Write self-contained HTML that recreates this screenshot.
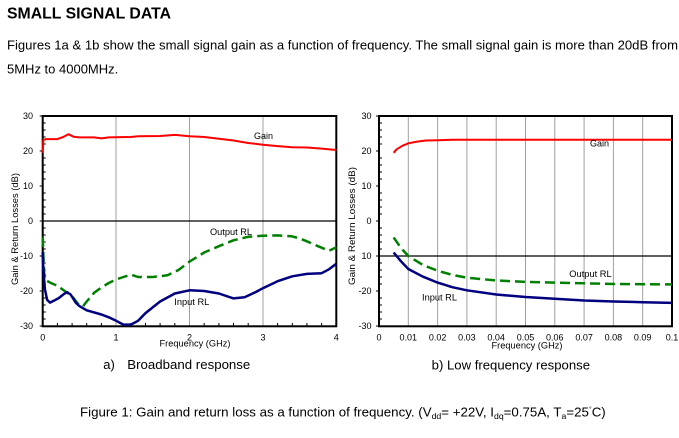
<!DOCTYPE html>
<html><head><meta charset="utf-8"><style>
html,body{margin:0;padding:0;background:#fff;}
svg{display:block;}
text{font-family:"Liberation Sans",Arial,sans-serif;fill:#000;}
</style></head><body>
<svg width="679" height="438" viewBox="0 0 679 438" xmlns="http://www.w3.org/2000/svg">
<rect x="0" y="0" width="679" height="438" fill="#fff"/>
<!-- Header -->
<text x="7" y="18.3" font-size="16" font-weight="bold" textLength="164" lengthAdjust="spacingAndGlyphs">SMALL SIGNAL DATA</text>
<text x="7" y="49.5" font-size="13" textLength="671" lengthAdjust="spacingAndGlyphs">Figures 1a &amp; 1b show the small signal gain as a function of frequency. The small signal gain is more than 20dB from</text>
<text x="7" y="73.3" font-size="13">5MHz to 4000MHz.</text>

<!-- ===== LEFT CHART ===== -->
<g stroke="#a0a0a0" stroke-width="1">
<line x1="116" y1="117" x2="116" y2="326"/>
<line x1="189.5" y1="117" x2="189.5" y2="326"/>
<line x1="263" y1="117" x2="263" y2="326"/>
</g>
<line x1="42.7" y1="221" x2="336.3" y2="221" stroke="#000" stroke-width="1.2"/>
<g stroke="#000" stroke-width="1">
<path d="M42.7,123h3M42.7,130h3M42.7,137h3M42.7,144h3M42.7,158h3M42.7,165h3M42.7,172h3M42.7,179h3M42.7,193h3M42.7,200h3M42.7,207h3M42.7,214h3M42.7,228h3M42.7,235h3M42.7,242h3M42.7,249h3M42.7,263h3M42.7,270h3M42.7,277h3M42.7,284h3M42.7,298h3M42.7,305h3M42.7,312h3M42.7,319h3"/>
<path d="M39.7,116h3M39.7,151h3M39.7,186h3M39.7,221h3M39.7,256h3M39.7,291h3M39.7,326h3"/>
<path d="M57.4,326v-3M72.1,326v-3M86.7,326v-3M101.4,326v-3M130.8,326v-3M145.5,326v-3M160.1,326v-3M174.8,326v-3M204.2,326v-3M218.9,326v-3M233.5,326v-3M248.2,326v-3M277.6,326v-3M292.3,326v-3M306.9,326v-3M321.6,326v-3"/>
</g>
<rect x="42.7" y="116" width="293.6" height="210.3" fill="none" stroke="#000" stroke-width="2"/>

<polyline fill="none" stroke="#008000" stroke-width="2.5" stroke-dasharray="10 5" stroke-linejoin="round"
points="42.7,236.8 43.4,256 44.2,273.5 46.4,280.5 50,282.6 57.4,285.8 64.7,291 72.1,296.3 79.4,305.7 83.1,306.1 86.7,301.5 94.1,292.8 101.4,287.5 108.8,283 116.1,279.5 123.4,277 130.8,274.6 138.1,277 152.8,277 167.5,275.3 178.5,270 189.5,261.6 204.2,252.5 218.9,246.2 233.5,240.3 248.2,236.8 262.9,235.7 277.6,235.4 292.3,236.4 299.6,238.5 306.9,241.3 318,246.2 329,250.8 336.3,247.3"/>
<polyline fill="none" stroke="#000080" stroke-width="2.5" stroke-linejoin="round"
points="42.7,251.8 43.4,270 44.9,289.3 47.1,299.8 50,302.6 53.7,300.8 58.9,298 63.3,294.5 66.9,292.1 70.6,294.5 75.7,302.6 79.4,306.1 86.7,310.3 101.4,314.5 108.8,317.3 116.1,320.8 123.4,324.6 130.8,324.6 138.1,320.8 145.5,313.1 160.1,301.5 174.8,293.5 189.5,290.3 204.2,291 218.9,293.5 233.5,298.4 244.6,297.3 255.6,292.1 262.9,288.2 277.6,281.2 292.3,276.3 306.9,273.9 321.6,273.2 329,269.3 336.3,263.7"/>
<polyline fill="none" stroke="#ff0000" stroke-width="2" stroke-linejoin="round"
points="42.7,152.8 43.4,139.8 46.4,139.1 57.4,139.1 63.2,137 68.4,134.2 73.5,136.7 79.4,137.4 94.1,137.4 101.4,138.4 108.8,137.4 130.8,137 138.1,136.3 160.1,136 174.8,134.9 189.5,136.3 204.2,137 218.9,138.8 233.5,140.5 248.2,143 262.9,144.7 277.6,146.1 292.3,147.2 306.9,147.5 321.6,148.6 336.3,150"/>

<g font-size="9" text-anchor="end">
<text x="33" y="119.2">30</text>
<text x="33" y="154.2">20</text>
<text x="33" y="189.2">10</text>
<text x="33" y="224.2">0</text>
<text x="33" y="259.2">-10</text>
<text x="33" y="294.2">-20</text>
<text x="33" y="329.2">-30</text>
</g>
<g font-size="9" text-anchor="middle">
<text x="42.7" y="340.5">0</text>
<text x="116" y="340.5">1</text>
<text x="189.5" y="340.5">2</text>
<text x="263" y="340.5">3</text>
<text x="336.3" y="340.5">4</text>
</g>
<text x="159.5" y="346.5" font-size="9" textLength="71" lengthAdjust="spacingAndGlyphs">Frequency (GHz)</text>
<text transform="translate(18,229) rotate(-90)" font-size="9" text-anchor="middle" textLength="112" lengthAdjust="spacingAndGlyphs">Gain &amp; Return Losses (dB)</text>
<text x="254" y="139" font-size="9">Gain</text>
<text x="210" y="235" font-size="9" textLength="42" lengthAdjust="spacingAndGlyphs">Output RL</text>
<text x="174.3" y="304.8" font-size="9" textLength="35" lengthAdjust="spacingAndGlyphs">Input RL</text>

<!-- ===== RIGHT CHART ===== -->
<g stroke="#a0a0a0" stroke-width="1">
<line x1="408.3" y1="117" x2="408.3" y2="326"/>
<line x1="437.6" y1="117" x2="437.6" y2="326"/>
<line x1="466.9" y1="117" x2="466.9" y2="326"/>
<line x1="496.2" y1="117" x2="496.2" y2="326"/>
<line x1="525.5" y1="117" x2="525.5" y2="326"/>
<line x1="554.8" y1="117" x2="554.8" y2="326"/>
<line x1="584.1" y1="117" x2="584.1" y2="326"/>
<line x1="613.4" y1="117" x2="613.4" y2="326"/>
<line x1="642.7" y1="117" x2="642.7" y2="326"/>
</g>
<line x1="379" y1="256" x2="672" y2="256" stroke="#000" stroke-width="1.2"/>
<g stroke="#000" stroke-width="1">
<path d="M379,123h3M379,130h3M379,137h3M379,144h3M379,158h3M379,165h3M379,172h3M379,179h3M379,193h3M379,200h3M379,207h3M379,214h3M379,228h3M379,235h3M379,242h3M379,249h3M379,263h3M379,270h3M379,277h3M379,284h3M379,298h3M379,305h3M379,312h3M379,319h3"/>
<path d="M376,116h3M376,151h3M376,186h3M376,221h3M376,256h3M376,291h3M376,326h3"/>
</g>
<rect x="379" y="116" width="293" height="210.3" fill="none" stroke="#000" stroke-width="2"/>

<polyline fill="none" stroke="#008000" stroke-width="2.5" stroke-dasharray="10 5" stroke-linejoin="round"
points="393.65,237.5 401,248 408.3,256 423,265.1 437.6,270.7 452.3,274.9 466.9,277.7 496.2,280.5 525.5,281.9 554.8,282.6 584.1,283.3 613.4,284 672,284.4"/>
<polyline fill="none" stroke="#000080" stroke-width="2.5" stroke-linejoin="round"
points="393.65,252.5 401,261.3 408.3,269 423,276.7 437.6,282.6 452.3,287.2 466.9,290.3 496.2,294.5 525.5,297 554.8,298.7 584.1,300.5 613.4,301.5 642.7,302.2 672,302.9"/>
<polyline fill="none" stroke="#ff0000" stroke-width="2" stroke-linejoin="round"
points="393.65,152.8 396.6,149.3 402.4,145.8 408.3,143.3 417.1,141.6 425.9,140.5 437.6,140.2 452.3,139.8 672,139.8"/>

<g font-size="9" text-anchor="end">
<text x="371.5" y="119.2">30</text>
<text x="371.5" y="154.2">20</text>
<text x="371.5" y="189.2">10</text>
<text x="371.5" y="224.2">0</text>
<text x="371.5" y="259.2">10</text>
<text x="371.5" y="294.2">-20</text>
<text x="371.5" y="329.2">-30</text>
</g>
<g font-size="9" text-anchor="middle">
<text x="379" y="340.5">0</text>
<text x="408.3" y="340.5">0.01</text>
<text x="437.6" y="340.5">0.02</text>
<text x="466.9" y="340.5">0.03</text>
<text x="496.2" y="340.5">0.04</text>
<text x="525.5" y="340.5">0.05</text>
<text x="554.8" y="340.5">0.06</text>
<text x="584.1" y="340.5">0.07</text>
<text x="613.4" y="340.5">0.08</text>
<text x="642.7" y="340.5">0.09</text>
<text x="672" y="340.5">0.1</text>
</g>
<text x="491.5" y="348.5" font-size="9" textLength="71" lengthAdjust="spacingAndGlyphs">Frequency (GHz)</text>
<text transform="translate(355,226) rotate(-90)" font-size="9" text-anchor="middle" textLength="118" lengthAdjust="spacingAndGlyphs">Gain &amp; Return Losses (dB)</text>
<text x="590" y="146.3" font-size="9">Gain</text>
<text x="569.3" y="277" font-size="9" textLength="42.4" lengthAdjust="spacingAndGlyphs">Output RL</text>
<text x="422" y="300.3" font-size="9" textLength="35" lengthAdjust="spacingAndGlyphs">Input RL</text>

<!-- captions -->
<text x="103.3" y="369" font-size="13">a)</text>
<text x="127.3" y="369" font-size="13" textLength="123" lengthAdjust="spacingAndGlyphs">Broadband response</text>
<text x="431.7" y="369.5" font-size="13" textLength="158.3" lengthAdjust="spacingAndGlyphs">b) Low frequency response</text>
<text x="80" y="416.7" font-size="13.3">Figure 1: Gain and return loss as a function of frequency. (V<tspan font-size="8.7" dy="2.5">dd</tspan><tspan dy="-2.5">= +22V, I</tspan><tspan font-size="8.7" dy="2.5">dq</tspan><tspan dy="-2.5">=0.75A, T</tspan><tspan font-size="8.7" dy="2.5">a</tspan><tspan dy="-2.5">=25</tspan><tspan font-size="7" dy="-5">°</tspan><tspan dy="5">C)</tspan></text>
</svg>
</body></html>
